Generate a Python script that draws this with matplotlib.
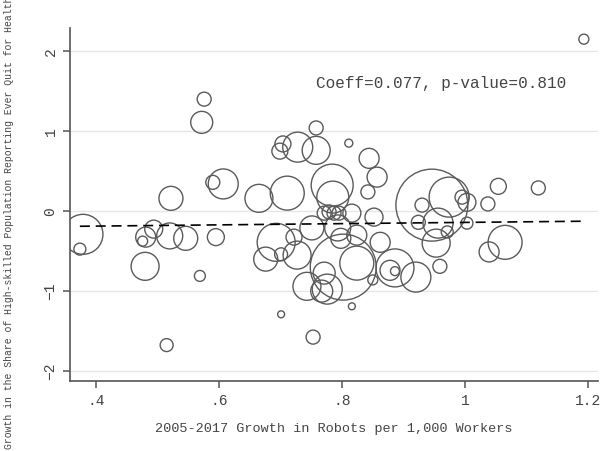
import matplotlib
matplotlib.use("Agg")
import matplotlib.pyplot as plt
import numpy as np

# robots growth (x), quit-for-health growth (y), bubble weight
robots = [0.379, 0.374, 0.476, 0.481, 0.494, 0.520, 0.546, 0.595, 0.480, 0.569,
          0.515, 0.701, 0.693, 0.676, 0.701, 0.576, 0.572, 0.699, 0.704, 0.728,
          0.590, 0.607, 0.522, 0.665, 0.711, 0.758, 0.758, 0.811, 0.844, 0.857,
          0.842, 0.784, 0.785, 0.816, 0.852, 0.771, 0.779, 0.787, 0.795, 0.751,
          0.793, 0.798, 0.824, 0.722, 0.727, 0.824, 0.802, 0.771, 0.743, 0.776,
          0.767, 0.816, 0.753, 0.850, 0.862, 0.886, 0.878, 0.886, 0.920, 0.959,
          0.953, 0.971, 1.039, 1.065, 1.003, 0.924, 0.946, 0.974, 0.930, 0.956,
          0.995, 1.003, 1.037, 1.054, 1.119, 1.193]
quit_health = [-0.29, -0.475, -0.375, -0.325, -0.225, -0.31, -0.34, -0.325, -0.69, -0.81,
               -1.675, -1.29, -0.39, -0.60, -0.54, 1.40, 1.11, 0.75, 0.84, 0.80,
               0.36, 0.34, 0.16, 0.16, 0.225, 1.04, 0.76, 0.85, 0.66, 0.425,
               0.24, 0.325, 0.175, -0.025, -0.075, -0.025, -0.01, -0.025, -0.025, -0.21,
               -0.21, -0.34, -0.30, -0.325, -0.55, -0.65, -0.70, -0.775, -0.94, -0.975,
               -1.0, -1.19, -1.575, -0.86, -0.39, -0.71, -0.74, -0.75, -0.825, -0.69,
               -0.40, -0.26, -0.51, -0.39, -0.15, -0.14, 0.075, 0.175, 0.075, -0.15,
               0.175, 0.11, 0.09, 0.31, 0.29, 2.15]
weight = [400, 36, 25, 100, 81, 169, 144, 72, 196, 30,
          42, 12, 361, 144, 42, 49, 121, 64, 64, 225,
          49, 225, 144, 196, 289, 49, 196, 16, 100, 100,
          49, 441, 256, 81, 81, 49, 49, 49, 49, 144,
          169, 100, 100, 64, 196, 289, 1089, 121, 196, 225,
          121, 12, 49, 25, 100, 361, 100, 20, 225, 49,
          196, 36, 100, 289, 36, 49, 1296, 400, 49, 225,
          49, 81, 49, 64, 49, 25]

coeff = 0.077
intercept = -0.218
p_value = 0.810

plt.rcParams['font.family'] = ['Liberation Mono', 'DejaVu Sans Mono']

fig = plt.figure(figsize=(6, 4.51), dpi=100)
ax = fig.add_axes([0.1167, 0.155, 0.88, 0.783])

for yv in [-2, -1, 0, 1, 2]:
    ax.axhline(yv, color='#e6e6e6', lw=1, zorder=0)

sizes = np.array(weight) * 2.07
ax.scatter(robots, quit_health, s=sizes, facecolors='none',
           edgecolors='#5a5a5a', linewidths=1.0, zorder=2)

xs = np.array([min(robots), max(robots)])
ax.plot(xs, intercept + coeff * xs, color='black', lw=1.2,
        dashes=(6, 3.5), zorder=3)

ax.text(0.758, 1.6, 'Coeff=%.3f, p-value=%.3f' % (coeff, p_value),
        fontsize=11.5, color='#444444', va='center', ha='left')

ax.set_xlim(0.358, 1.216)
ax.set_ylim(-2.125, 2.29)
ax.set_xticks([0.4, 0.6, 0.8, 1.0, 1.2])
ax.set_xticklabels(['.4', '.6', '.8', '1', '1.2'])
ax.set_yticks([-2, -1, 0, 1, 2])
ax.set_yticklabels(['\u22122', '\u22121', '0', '1', '2'], rotation=90, va='center')

for s in ['top', 'right']:
    ax.spines[s].set_visible(False)
for s in ['left', 'bottom']:
    ax.spines[s].set_color('#555555')
    ax.spines[s].set_linewidth(1.2)
ax.tick_params(colors='#555555', labelcolor='#444444', labelsize=10.5,
               length=5, width=1.1, pad=4)

ax.set_xlabel('2005-2017 Growth in Robots per 1,000 Workers',
              fontsize=9.7, color='#444444', labelpad=11)
# long y title, starts at the bottom edge and runs off the top like the original
fig.text(9 / 600, 2 / 451,
         'Growth in the Share of High-skilled Population Reporting Ever Quit for Health Reasons',
         rotation=90, ha='center', va='bottom', fontsize=7, color='#444444')

fig.savefig('out.png', dpi=100)
